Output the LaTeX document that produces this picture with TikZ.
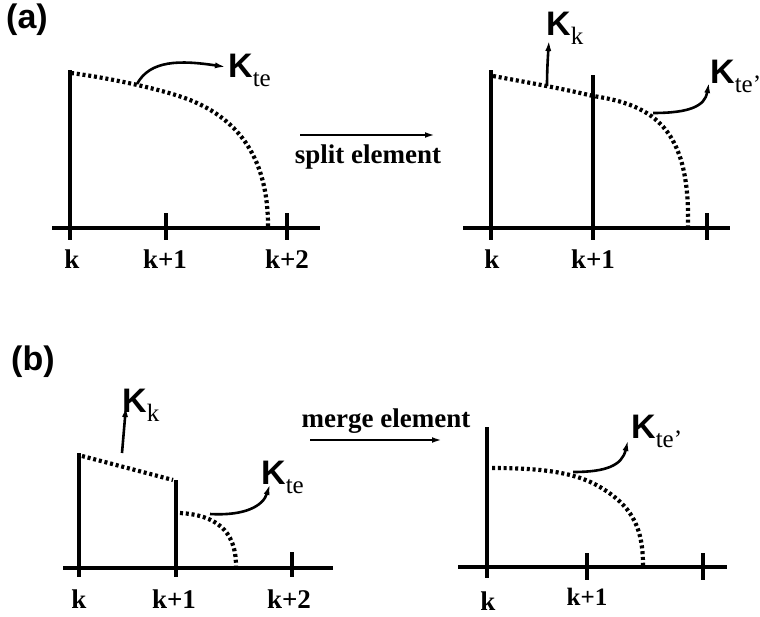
\documentclass[tikz,border=0pt]{standalone}
\usepackage{fontspec}
\setmainfont{Liberation Serif}
\newfontfamily\hvfont{Liberation Sans}
\usetikzlibrary{arrows.meta}
\newcommand\Klab[1]{{\hvfont\bfseries\fontsize{34}{34}\selectfont K}\raisebox{-9pt}{\fontsize{25}{25}\selectfont #1}}
\begin{document}
\begin{tikzpicture}[x=1pt,y=-1pt,
  axisline/.style={line width=3.2pt},
  tickline/.style={line width=3.6pt},
  dotcurve/.style={line width=4.2pt, dash pattern=on 3pt off 2.8pt},
  pointer/.style={line width=2.6pt, -{Latex[length=11pt,width=6pt]}},
  oparrow/.style={line width=2.6pt, -{Latex[length=12pt,width=5.5pt]}},
  lab/.style={anchor=base, inner sep=0pt, font=\bfseries\fontsize{27}{27}\selectfont},
  slab/.style={anchor=base, inner sep=0pt, font=\bfseries\fontsize{25}{25}\selectfont},
  opname/.style={anchor=base, inner sep=0pt, font=\bfseries\fontsize{27}{27}\selectfont},
  panel/.style={anchor=west, inner sep=0pt, font=\hvfont\bfseries\fontsize{34}{34}\selectfont},
  klabel/.style={anchor=base west, inner sep=0pt}]
\useasboundingbox (0,0) rectangle (760,616);

% ---------------- panel (a) ----------------
\node[panel] (pa) at (6,20) {(a)};

% left chart
\draw[axisline] (70,70) -- (70,240);
\draw[axisline] (52,228) -- (320,228);
\draw[tickline] (166,213) -- (166,240);
\draw[tickline] (287,213) -- (287,240);
\node[lab] (a1k) at (72,268) {k};
\node[lab] (a1k1) at (165,268) {k+1};
\node[lab] (a1k2) at (287,268) {k+2};
\draw[dotcurve] (71,73) .. controls (110,78) and (165,90) .. (190,100)
  .. controls (240,120) and (268,160) .. (268,226);
\coordinate (a1p) at (137,84);
\node[klabel] (a1kte) at (228,77) {\Klab{te}};
\coordinate (a1t) at (226,67);
\draw[pointer] (a1p) .. controls (150,60) and (180,60) .. (a1t);

% split arrow
\coordinate (s1) at (300,135);
\coordinate (s2) at (437,135);
\draw[oparrow] (s1) -- (s2);
\node[opname] (split) at (368,163) {split element};

% right chart
\draw[axisline] (491,70) -- (491,240);
\draw[axisline] (593,75) -- (593,240);
\draw[axisline] (463,228) -- (730,228);
\draw[tickline] (707,213) -- (707,240);
\node[lab] (a2k) at (492,268) {k};
\node[lab] (a2k1) at (593,268) {k+1};
\draw[dotcurve] (493,76) .. controls (525,82) and (560,88) .. (593,96)
  .. controls (655,105) and (690,130) .. (688,226);
\coordinate (a2p) at (547,86);
\node[klabel] (a2kk) at (546,35) {\Klab{k}};
\coordinate (a2t) at (549,40);
\draw[pointer] (a2p) .. controls (547,70) and (548,55) .. (a2t);
\coordinate (a2q) at (653,113);
\node[klabel] (a2kte) at (710,83) {\Klab{te'}};
\coordinate (a2u) at (709,82);
\draw[pointer] (a2q) .. controls (690,113) and (705,106) .. (a2u);

% ---------------- panel (b) ----------------
\node[panel] (pb) at (11,362) {(b)};

% left chart
\draw[axisline] (79,453) -- (79,577);
\draw[axisline] (176,480) -- (176,577);
\draw[axisline] (63,568) -- (333,568);
\draw[tickline] (292,552) -- (292,577);
\node[lab] (b1k) at (79,608) {k};
\node[lab] (b1k1) at (174,608) {k+1};
\node[lab] (b1k2) at (289,608) {k+2};
\draw[dotcurve] (82,456) -- (173,480);
\draw[dotcurve] (180,513) .. controls (215,515) and (236,530) .. (236,566);
\coordinate (b1p) at (122,453);
\node[klabel] (b1kk) at (122,412) {\Klab{k}};
\coordinate (b1t) at (126,406);
\draw[pointer] (b1p) -- (b1t);
\coordinate (b1q) at (210,514);
\node[klabel] (b1kte) at (261,484) {\Klab{te}};
\coordinate (b1u) at (270,484);
\draw[pointer] (b1q) .. controls (245,516) and (263,506) .. (b1u);

% merge arrow
\node[opname] (merge) at (386,427) {merge element};
\coordinate (m1) at (310,440);
\coordinate (m2) at (444,440);
\draw[oparrow] (m1) -- (m2);

% right chart
\draw[axisline] (487,427) -- (487,578);
\draw[axisline] (458,567) -- (727,567);
\draw[tickline] (587,553) -- (587,580);
\draw[tickline] (703,553) -- (703,580);
\node[lab] (b2k) at (488,610) {k};
\node[slab] (b2k1) at (587,605) {k+1};
\draw[dotcurve] (492,468) .. controls (540,468) and (575,472) .. (600,487)
  .. controls (630,505) and (643,525) .. (643,565);
\coordinate (b2p) at (573,472);
\node[klabel] (b2kte) at (631,438) {\Klab{te'}};
\coordinate (b2t) at (628,440);
\draw[pointer] (b2p) .. controls (605,472) and (622,466) .. (b2t);
\end{tikzpicture}
\end{document}
